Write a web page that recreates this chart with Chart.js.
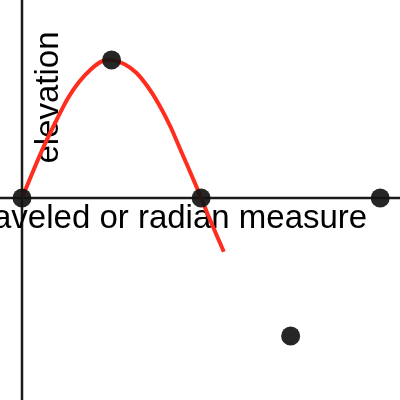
<!DOCTYPE html>
<html>
<head>
<meta charset="utf-8">
<script src="https://cdn.jsdelivr.net/npm/chart.js@4/dist/chart.umd.min.js"></script>
<style>
  html, body { margin: 0; padding: 0; background: #fff; }
  #wrap { width: 400px; height: 400px; }
</style>
</head>
<body>
<div id="wrap"><canvas id="sineChart"></canvas></div>
<script>
// red curve (x in radians)
const curveX = [0, 0.2, 0.4, 0.6, 0.8, 1.0, 1.2, 1.4, 1.571, 1.8, 2.0, 2.2, 2.4, 2.6, 2.8, 3.0, 3.142, 3.3, 3.54];
const curveY = [0, 0.2, 0.39, 0.56, 0.72, 0.84, 0.93, 0.99, 1.0, 0.97, 0.91, 0.81, 0.68, 0.52, 0.33, 0.14, 0, -0.16, -0.39];

// black dots
const dotX = [0, 1.571, 3.142, 4.712, 6.283];
const dotY = [0, 1, 0, -1, 0];

const xTitle = 'distance traveled or radian measure';
const yTitle = 'elevation';

const axesPlugin = {
    id: 'axesPlugin',
    beforeDatasetsDraw(chart) {
        const ctx = chart.ctx;
        const xs = chart.scales.x;
        const ys = chart.scales.y;
        const x0 = xs.getPixelForValue(0);
        const y0 = ys.getPixelForValue(0);

        ctx.save();
        ctx.strokeStyle = '#1a1a1a';
        ctx.lineWidth = 2.5;
        ctx.beginPath();
        ctx.moveTo(x0, 0);
        ctx.lineTo(x0, chart.height);
        ctx.moveTo(0, y0);
        ctx.lineTo(chart.width, y0);
        ctx.stroke();

        ctx.fillStyle = '#000';
        ctx.font = '33px "Liberation Sans", Arial, sans-serif';
        ctx.textAlign = 'right';
        ctx.textBaseline = 'alphabetic';
        // title ends just short of the last dot
        ctx.fillText(xTitle, xs.getPixelForValue(6.283) - 13, y0 + 30);

        ctx.textAlign = 'center';
        ctx.translate(x0 + 36, ys.getPixelForValue(0.728));
        ctx.rotate(-Math.PI / 2);
        ctx.fillText(yTitle, 0, 0);
        ctx.restore();
    }
};

const ctx = document.getElementById('sineChart');
new Chart(ctx, {
    type: 'scatter',
    data: {
        datasets: [
            {
                label: 'dots',
                data: dotX.map((x, i) => ({ x: x, y: dotY[i] })),
                pointRadius: 9.5,
                pointBackgroundColor: 'rgba(20, 20, 20, 0.92)',
                pointBorderWidth: 0,
                showLine: false,
                order: 0
            },
            {
                label: 'curve',
                data: curveX.map((x, i) => ({ x: x, y: curveY[i] })),
                showLine: true,
                borderColor: 'rgb(255, 45, 30)',
                borderWidth: 4,
                pointRadius: 0,
                tension: 0.3,
                order: 1
            }
        ]
    },
    options: {
        responsive: true,
        maintainAspectRatio: false,
        animation: false,
        layout: { padding: 0, autoPadding: false },
        plugins: {
            legend: { display: false },
            tooltip: { enabled: false }
        },
        scales: {
            x: { type: 'linear', display: false, min: -0.386, max: 6.63 },
            y: { type: 'linear', display: false, min: -1.464, max: 1.435 }
        }
    },
    plugins: [axesPlugin]
});
</script>
</body>
</html>
